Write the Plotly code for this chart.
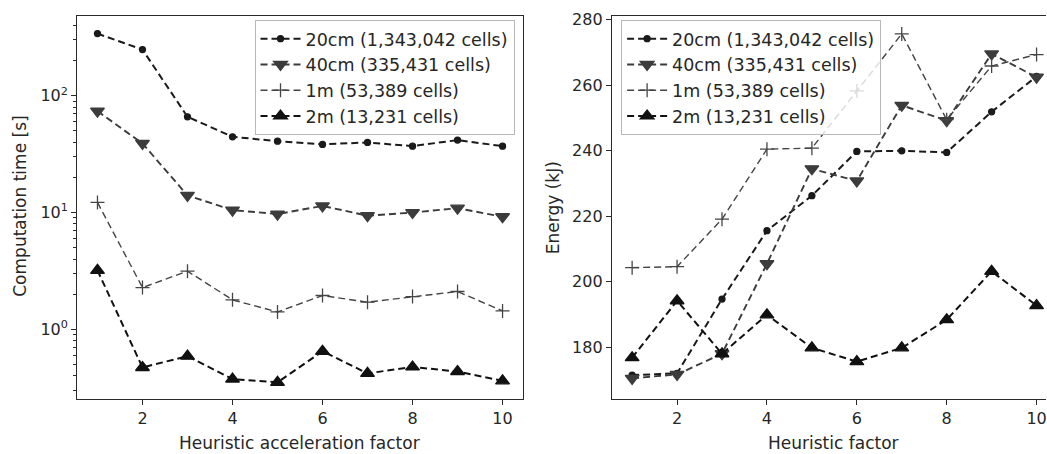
import plotly.graph_objects as go

# ---------------- data ----------------
factors = [1, 2, 3, 4, 5, 6, 7, 8, 9, 10]
series_names = ["20cm (1,343,042 cells)", "40cm (335,431 cells)", "1m (53,389 cells)", "2m (13,231 cells)"]

time_20cm = [340, 248, 66, 44.5, 40.8, 38.3, 39.8, 37, 41.7, 37]
time_40cm = [73.8, 39, 14, 10.5, 9.7, 11.4, 9.4, 10, 10.9, 9.2]
time_1m = [12.2, 2.28, 3.15, 1.79, 1.41, 1.95, 1.71, 1.91, 2.11, 1.44]
time_2m = [3.2, 0.472, 0.59, 0.376, 0.352, 0.65, 0.42, 0.477, 0.436, 0.363]

energy_20cm = [171.5, 172, 194.7, 215.6, 226.3, 239.8, 240, 239.5, 251.9, 262.7]
energy_40cm = [170.5, 171.7, 178, 205.5, 234.5, 230.8, 253.9, 249.2, 269.6, 262.5]
energy_1m = [204.3, 204.6, 219.1, 240.5, 240.8, 258.3, 275.7, 249.5, 265.9, 269.4]
energy_2m = [176.8, 194.2, 178, 189.9, 179.8, 175.6, 179.8, 188.4, 203.2, 192.7]

x_ticks = [2, 4, 6, 8, 10]
time_ticks = [1, 10, 100]
time_ticktext = ["10<sup>0</sup>", "10<sup>1</sup>", "10<sup>2</sup>"]
time_minor = [0.3, 0.4, 0.5, 0.6, 0.7, 0.8, 0.9,
              2, 3, 4, 5, 6, 7, 8, 9,
              20, 30, 40, 50, 60, 70, 80, 90,
              200, 300, 400]
energy_ticks = [180, 200, 220, 240, 260, 280]

# ---------------- styles ----------------
FONT = "DejaVu Sans"
TXT = "#262626"
AX = "#2a2a2a"
styles = [
    dict(color="#1a1a1a", width=2.0, symbol="circle", size=6),
    dict(color="#3c3c3c", width=1.9, symbol="triangle-down", size=12),
    dict(color="#454545", width=1.4, symbol="cross-thin", size=10),
    dict(color="#111111", width=2.0, symbol="triangle-up", size=12),
]

W, H = 1047, 454
def px_x(p):
    return p / W
def px_y(p):
    return 1 - p / H

fig = go.Figure()

left_data = [time_20cm, time_40cm, time_1m, time_2m]
right_data = [energy_20cm, energy_40cm, energy_1m, energy_2m]

for name, ys, st in zip(series_names, left_data, styles):
    fig.add_trace(go.Scatter(
        x=factors, y=ys, name=name, mode="lines+markers",
        xaxis="x", yaxis="y", legend="legend",
        line=dict(color=st["color"], width=st["width"], dash="7px,4px"),
        marker=dict(symbol=st["symbol"], size=st["size"], color=st["color"],
                    line=dict(color=st["color"], width=1.3)),
    ))

for name, ys, st in zip(series_names, right_data, styles):
    fig.add_trace(go.Scatter(
        x=factors, y=ys, name=name, mode="lines+markers",
        xaxis="x2", yaxis="y2", legend="legend2",
        line=dict(color=st["color"], width=st["width"], dash="7px,4px"),
        marker=dict(symbol=st["symbol"], size=st["size"], color=st["color"],
                    line=dict(color=st["color"], width=1.3)),
    ))

y_dom = [px_y(398), px_y(10.7)]
common_axis = dict(
    showgrid=False, zeroline=False, showline=True, linecolor=AX, linewidth=1.3,
    ticks="outside", ticklen=5, tickwidth=1.2, tickcolor=AX,
    tickfont=dict(family=FONT, size=16, color=TXT),
    ticklabeloverflow="allow",
)

legend_common = dict(
    bgcolor="rgba(255,255,255,0.8)", bordercolor="#b8b8b8", borderwidth=1,
    font=dict(family=FONT, size=17.5, color=TXT),
    yanchor="top", tracegroupgap=0, itemwidth=40,
)

fig.update_layout(
    width=W, height=H,
    margin=dict(l=0, r=0, t=0, b=0),
    paper_bgcolor="white", plot_bgcolor="white",
    showlegend=True,
    xaxis=dict(domain=[px_x(77.3), px_x(523.3)], range=[0.55, 10.45], anchor="y",
               tickvals=x_ticks, mirror=True, **common_axis),
    yaxis=dict(domain=y_dom, type="log", range=[-0.5925, 2.6856], anchor="x",
               tickvals=time_ticks, ticktext=time_ticktext, mirror=True,
               minor=dict(tickvals=time_minor, ticks="outside", ticklen=3,
                          tickwidth=1, tickcolor=AX, showgrid=False),
               **common_axis),
    xaxis2=dict(domain=[px_x(612.5), 1.0], range=[0.55, 10.21], anchor="y2",
                tickvals=x_ticks, mirror=True, **common_axis),
    yaxis2=dict(domain=y_dom, range=[164.3, 281.3], anchor="x2",
                tickvals=energy_ticks, mirror=False, **common_axis),
    legend=dict(x=px_x(515), y=px_y(15), xanchor="right", **legend_common),
    legend2=dict(x=px_x(621.7), y=px_y(15), xanchor="left", **legend_common),
)

title_font = dict(family=FONT, size=17, color=TXT)
fig.add_annotation(text="Heuristic acceleration factor", x=px_x(300), y=px_y(443),
                   xref="paper", yref="paper", showarrow=False, font=title_font,
                   xanchor="center", yanchor="middle")
fig.add_annotation(text="Heuristic factor", x=px_x(834), y=px_y(443),
                   xref="paper", yref="paper", showarrow=False, font=title_font,
                   xanchor="center", yanchor="middle")
fig.add_annotation(text="Computation time [s]", x=px_x(20), y=px_y(203),
                   xref="paper", yref="paper", showarrow=False, font=title_font,
                   textangle=-90, xanchor="center", yanchor="middle")
fig.add_annotation(text="Energy (kJ)", x=px_x(553), y=px_y(205),
                   xref="paper", yref="paper", showarrow=False, font=title_font,
                   textangle=-90, xanchor="center", yanchor="middle")

fig.write_html(
    "out.html",
    config={"displayModeBar": False},
    post_script="document.body.style.margin='0px';document.body.style.overflow='hidden';",
)
